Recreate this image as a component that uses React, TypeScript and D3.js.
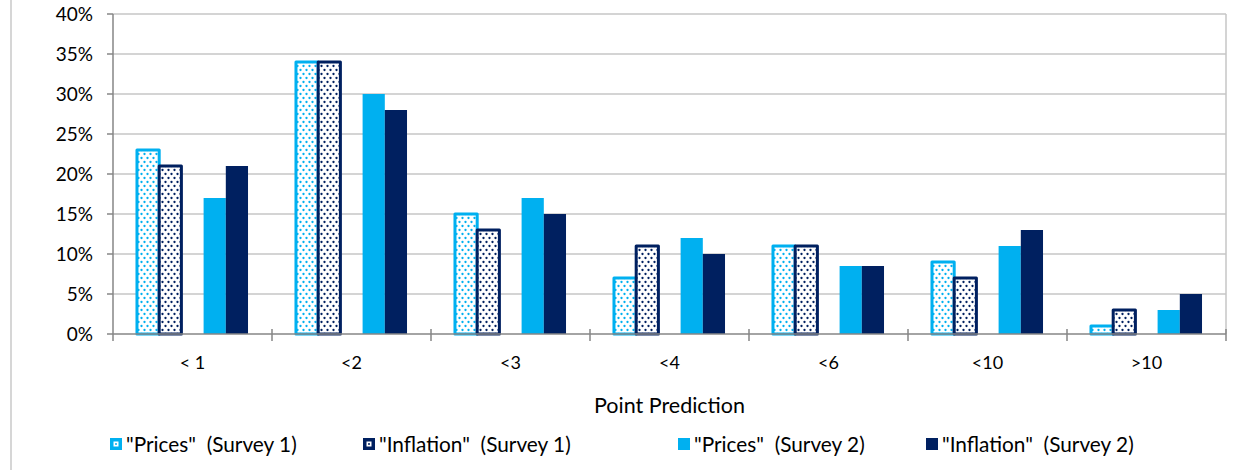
import * as d3 from "d3";

const categories = ["< 1", "<2", "<3", "<4", "<6", "<10", ">10"];
const pricesSurvey1 = [23, 34, 15, 7, 11, 9, 1];
const inflationSurvey1 = [21, 34, 13, 11, 11, 7, 3];
const pricesSurvey2 = [17, 30, 17, 12, 8.5, 11, 3];
const inflationSurvey2 = [21, 28, 15, 10, 8.5, 13, 5];
const yTicks = [0, 5, 10, 15, 20, 25, 30, 35, 40];

const LIGHT = "#00B0F0";
const DARK = "#002060";
const GRID = "#c6c6c6";
const AXIS = "#868686";
const FONT = "Lato, 'Open Sans', sans-serif";

const W = 1234;
const H = 470;
const margin = { top: 14, right: 8, bottom: 136, left: 113 };

const series = [
  { key: "p1", name: '"Prices"  (Survey 1)', values: pricesSurvey1, color: LIGHT, pattern: true },
  { key: "i1", name: '"Inflation"  (Survey 1)', values: inflationSurvey1, color: DARK, pattern: true },
  { key: "p2", name: '"Prices"  (Survey 2)', values: pricesSurvey2, color: LIGHT, pattern: false },
  { key: "i2", name: '"Inflation"  (Survey 2)', values: inflationSurvey2, color: DARK, pattern: false },
];

const legendX = [110, 363, 678, 926];

export default function App() {
  const x0 = margin.left;
  const x1 = W - margin.right;
  const yTop = margin.top;
  const yBot = H - margin.bottom;

  const x = d3.scaleBand<string>().domain(categories).range([x0, x1]).paddingInner(0).paddingOuter(0);
  const inner = d3
    .scaleBand<string>()
    .domain(["p1", "i1", "gap", "p2", "i2"])
    .range([0, x.bandwidth()])
    .paddingInner(0)
    .paddingOuter(1.08);
  const y = d3.scaleLinear().domain([0, 40]).range([yBot, yTop]);

  return (
    <svg width={W} height={H} style={{ position: "absolute", left: 0, top: 0, background: "#fff" }}>
      <defs>
        {series
          .filter((s) => s.pattern)
          .map((s) => (
            <pattern key={s.key} id={`dots-${s.key}`} width={6} height={8} patternUnits="userSpaceOnUse">
              <rect width={6} height={8} fill="#fff" />
              <circle cx={1.5} cy={2} r={1.15} fill={s.color} />
              <circle cx={4.5} cy={6} r={1.15} fill={s.color} />
            </pattern>
          ))}
      </defs>

      {/* frame line on the left */}
      <line x1={11} x2={11} y1={0} y2={H} stroke="#c8c8c8" strokeWidth={1.5} />

      {/* gridlines */}
      {yTicks.slice(1).map((t) => (
        <line key={t} x1={x0} x2={x1} y1={y(t)} y2={y(t)} stroke={GRID} strokeWidth={1.5} />
      ))}
      <line x1={x1} x2={x1} y1={yTop} y2={yBot} stroke={GRID} strokeWidth={1.5} />

      {/* bars */}
      {categories.map((c, ci) => (
        <g key={c} transform={`translate(${x(c)},0)`}>
          {series.map((s) => {
            const bx = inner(s.key)!;
            const bw = inner.bandwidth();
            const top = y(s.values[ci]);
            return s.pattern ? (
              <rect
                key={s.key}
                x={bx}
                y={top}
                width={bw}
                height={yBot - top}
                fill={`url(#dots-${s.key})`}
                stroke={s.color}
                strokeWidth={3}
                strokeLinejoin="round"
              />
            ) : (
              <rect key={s.key} x={bx} y={top} width={bw} height={yBot - top} fill={s.color} />
            );
          })}
        </g>
      ))}

      {/* y axis */}
      <line x1={x0} x2={x0} y1={yTop} y2={yBot + 7} stroke={AXIS} strokeWidth={1.5} />
      {yTicks.map((t) => (
        <g key={t}>
          <line x1={x0 - 6} x2={x0} y1={y(t)} y2={y(t)} stroke={AXIS} strokeWidth={1.5} />
          <text x={93} y={y(t)} dy="0.35em" textAnchor="end" fontFamily={FONT} fontSize={19} fill="#000">
            {t}%
          </text>
        </g>
      ))}

      {/* x axis */}
      <line x1={x0} x2={x1} y1={yBot} y2={yBot} stroke={AXIS} strokeWidth={1.5} />
      {categories.map((c) => (
        <line key={c} x1={x(c)! + x.bandwidth()} x2={x(c)! + x.bandwidth()} y1={yBot - 5} y2={yBot + 7} stroke={AXIS} strokeWidth={1.5} />
      ))}
      {categories.map((c) => (
        <text key={c} x={x(c)! + x.bandwidth() / 2} y={369} textAnchor="middle" fontFamily={FONT} fontSize={18} fill="#000" style={{ whiteSpace: "pre" }}>
          {c}
        </text>
      ))}

      <text x={(x0 + x1) / 2} y={413} textAnchor="middle" fontFamily={FONT} fontSize={21.5} fill="#000">
        Point Prediction
      </text>

      {/* legend */}
      {series.map((s, i) => (
        <g key={s.key} transform={`translate(${legendX[i]},438)`}>
          <rect width={12} height={12} fill={s.color} />
          {s.pattern && (
            <>
              <rect x={3.5} y={3.5} width={5} height={5} fill="#fff" />
              <circle cx={6} cy={6} r={1} fill={s.color} />
            </>
          )}
          <text x={16} y={6} dy="0.36em" fontFamily={FONT} fontSize={20.8} fill="#000" style={{ whiteSpace: "pre" }}>
            {s.name}
          </text>
        </g>
      ))}
    </svg>
  );
}
